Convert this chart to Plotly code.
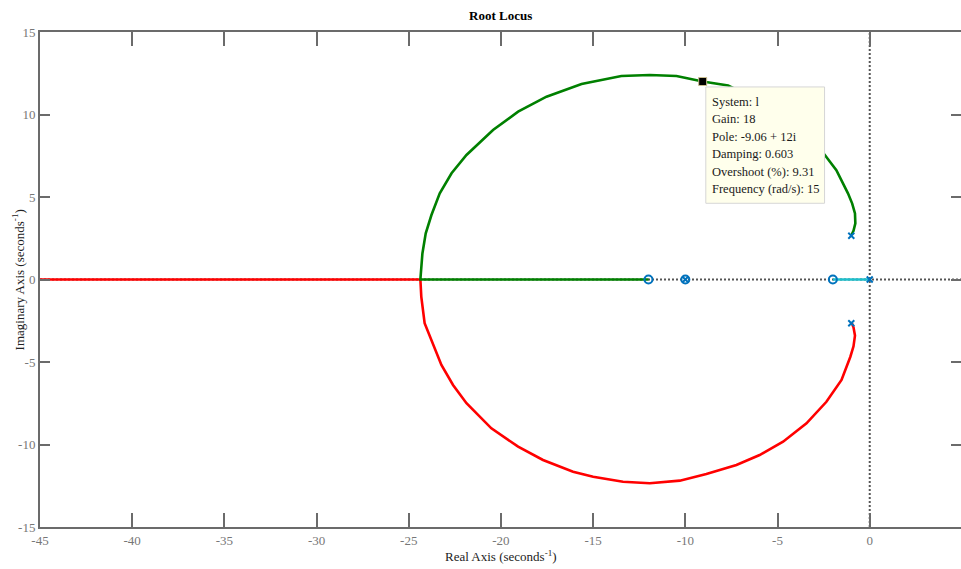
import plotly.graph_objects as go

# Root locus branches (real, imaginary parts)
green_re = [-0.99, -0.88, -0.78, -0.80, -0.95, -1.18, -1.81, -2.71, -3.80, -5.80, -7.68,
            -9.06, -10.48, -11.93, -13.47, -15.63, -17.53, -19.07, -20.43, -21.87,
            -22.68, -23.32, -23.77, -24.08, -24.26, -24.37, -12.0]
green_im = [2.70, 2.95, 3.40, 4.00, 4.60, 5.22, 6.63, 7.95, 9.16, 10.70, 11.76,
            12.0, 12.33, 12.39, 12.33, 11.85, 11.08, 10.17, 9.06, 7.55,
            6.44, 5.22, 3.91, 2.80, 1.58, 0.0, 0.0]

red_re = [-0.99, -0.88, -0.80, -0.88, -1.05, -1.53, -2.35, -3.43, -4.70, -5.97, -7.23,
          -8.86, -10.30, -11.93, -13.38, -15.00, -16.09, -17.72, -19.07, -20.52,
          -21.87, -22.60, -23.23, -23.77, -24.14, -24.32, -24.37, -45.0]
red_im = [-2.59, -2.90, -3.40, -4.05, -4.68, -6.09, -7.41, -8.72, -9.83, -10.64, -11.24,
          -11.79, -12.19, -12.35, -12.26, -11.96, -11.65, -10.94, -10.13, -9.02,
          -7.50, -6.39, -5.18, -3.67, -2.65, -1.05, 0.0, 0.0]

cyan_re = [0.0, -2.0]
cyan_im = [0.0, 0.0]

# Open-loop poles and zeros
pole_re = [0.0, -1.0, -1.0, -10.0]
pole_im = [0.0, 2.65, -2.65, 0.0]
zero_re = [-2.0, -10.0, -12.0]
zero_im = [0.0, 0.0, 0.0]

# Selected point and its data tip
tip_re, tip_im = -9.06, 12.0
tip_lines = ["System: l", "Gain: 18", "Pole: -9.06 + 12i", "Damping: 0.603",
             "Overshoot (%): 9.31", "Frequency (rad/s): 15"]

x_ticks = [-45, -40, -35, -30, -25, -20, -15, -10, -5, 0]
x_labels = ["-45", "-40", "-35", "-30", "-25", "-20", "-15", "-10", "-5", "0"]
y_ticks = [-15, -10, -5, 0, 5, 10, 15]
y_labels = ["-15", "-10", "-5", "0", "5", "10", "15"]

FONT = "Liberation Serif, Times New Roman, serif"
AXC = "#6b6b6b"
BLUE = "#0072BD"

fig = go.Figure()

line_w = 2.6
fig.add_trace(go.Scatter(x=red_re, y=red_im, mode="lines",
                         line=dict(color="#ff0000", width=line_w), hoverinfo="skip"))
fig.add_trace(go.Scatter(x=green_re, y=green_im, mode="lines",
                         line=dict(color="#008000", width=line_w), hoverinfo="skip"))
fig.add_trace(go.Scatter(x=cyan_re, y=cyan_im, mode="lines",
                         line=dict(color="#1ebfcc", width=line_w), hoverinfo="skip"))

fig.add_trace(go.Scatter(x=zero_re, y=zero_im, mode="markers",
                         marker=dict(symbol="circle-open", size=8, color=BLUE,
                                     line=dict(width=2, color=BLUE)), hoverinfo="skip"))
fig.add_trace(go.Scatter(x=pole_re, y=pole_im, mode="markers",
                         marker=dict(symbol="x-thin-open", size=6, color=BLUE,
                                     line=dict(width=2, color=BLUE)), hoverinfo="skip"))

fig.add_trace(go.Scatter(x=[tip_re], y=[tip_im], mode="markers",
                         marker=dict(symbol="square", size=8, color="black",
                                     line=dict(width=1, color="#c9bd8f")), hoverinfo="skip"))

# Dotted real and imaginary axes
dot = dict(color="#555555", width=2, dash="2px,2px")
fig.add_shape(type="line", xref="paper", yref="y", x0=0, x1=1, y0=0, y1=0,
              line=dot, layer="below")
fig.add_shape(type="line", xref="x", yref="paper", x0=0, x1=0, y0=0, y1=1,
              line=dot, layer="below")

# Data tip box: background panel plus one text line per row
box_x0, box_top = -8.89, 11.67
box_x1, box_bot = -2.45, 4.62
fig.add_shape(type="rect", xref="x", yref="y", x0=box_x0, x1=box_x1, y0=box_bot, y1=box_top,
              fillcolor="#ffffec", line=dict(color="#d6d6d6", width=1), layer="above")
row_step = 1.06
for i, txt in enumerate(tip_lines):
    fig.add_annotation(x=box_x0 + 0.2, y=box_top - 0.9 - i * row_step, xref="x", yref="y",
                       xanchor="left", yanchor="middle", text=txt, showarrow=False,
                       font=dict(family=FONT, size=12.5, color="#1a1a1a"))

# Title and axis labels
fig.add_annotation(text="<b>Root Locus</b>", xref="paper", yref="paper", x=0.5, y=1.034,
                   xanchor="center", yanchor="middle", showarrow=False,
                   font=dict(family=FONT, size=13, color="black"))
fig.add_annotation(text="Real Axis (seconds<sup>-1</sup>)", xref="paper", yref="paper",
                   x=0.5, y=-0.058, xanchor="center", yanchor="middle", showarrow=False,
                   font=dict(family=FONT, size=13, color="#222222"))
fig.add_annotation(text="Imaginary Axis (seconds<sup>-1</sup>)", xref="paper", yref="paper",
                   x=-0.024, y=0.5, xanchor="center", yanchor="middle", textangle=-90,
                   showarrow=False, font=dict(family=FONT, size=13, color="#222222"))

fig.update_layout(
    width=961, height=569,
    margin=dict(l=40, r=0, t=32, b=42),
    paper_bgcolor="white", plot_bgcolor="white",
    showlegend=False,
    xaxis=dict(range=[-45, 4.95], tickvals=x_ticks, ticktext=x_labels, ticks="inside",
               ticklen=14, tickwidth=2, tickcolor=AXC, showline=True, linewidth=2,
               linecolor=AXC, mirror="ticks", showgrid=False, zeroline=False,
               tickfont=dict(family=FONT, size=13, color="#777777")),
    yaxis=dict(range=[-15, 15], tickvals=y_ticks, ticktext=y_labels, ticks="inside",
               ticklen=10, tickwidth=2, tickcolor=AXC, showline=True, linewidth=2,
               linecolor=AXC, mirror=False, showgrid=False, zeroline=False,
               tickfont=dict(family=FONT, size=13, color="#777777")),
    yaxis2=dict(range=[-15, 15], tickvals=y_ticks, overlaying="y", side="right",
                ticks="inside", ticklen=10, tickwidth=2, tickcolor=AXC,
                showline=False, showticklabels=False, showgrid=False, zeroline=False),
)
# invisible trace so the right-hand tick axis is rendered
fig.add_trace(go.Scatter(x=[-45], y=[0], yaxis="y2", mode="markers",
                         marker=dict(opacity=0), hoverinfo="skip"))

fig.write_html("out.html")
